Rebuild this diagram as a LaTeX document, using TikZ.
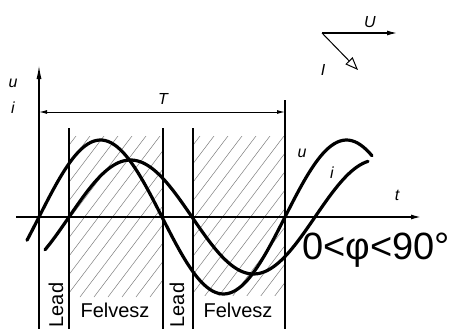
\documentclass[tikz,border=0pt]{standalone}
\usepackage{fontspec}
\setmainfont{Liberation Sans}
\usetikzlibrary{arrows.meta, positioning}
\definecolor{hatchgray}{RGB}{125,125,125}

\begin{document}
\begin{tikzpicture}[x=1pt, y=-1pt,
  wave/.style={line width=3.2pt, line cap=round},
  axisline/.style={line width=1.4pt},
  hatchline/.style={hatchgray, line width=0.5pt},
  sym/.style={font=\fontsize{16}{16}\selectfont\itshape, inner sep=0pt},
  zone/.style={font=\fontsize{20}{20}\selectfont, inner sep=0pt}]
\useasboundingbox (0,0) rectangle (455,329);
\begin{scope}
\clip (69,136) rectangle (163,297);
\foreach \k in {0,...,18} \draw[hatchline] (\k*14-60,297) -- ++(125,-165);
\end{scope}
\begin{scope}
\clip (193,136) rectangle (285,295);
\foreach \k in {0,...,18} \draw[hatchline] (\k*14+64,297) -- ++(125,-165);
\end{scope}
\coordinate (xs) at (16,217);
\coordinate (xe) at (421,217);
\coordinate (ys) at (39,329);
\coordinate (ye) at (39,65);
\coordinate (tl) at (39,112);
\coordinate (tr) at (285,112);
\coordinate (ttop) at (285,100);
\coordinate (tbot) at (285,329);
\draw[axisline, -{Latex[length=10pt, width=5pt]}] (xs) -- (xe);
\draw[axisline, -{Latex[length=14pt, width=5pt]}] (ys) -- (ye);
\draw[line width=1pt, {Latex[length=8pt, width=4pt]}-{Latex[length=8pt, width=4pt]}] (tl) -- (tr);
\draw[line width=1.1pt] (ttop) -- (tbot);
\foreach \x in {69,163,193} \draw[line width=1.1pt] (\x,128) -- (\x,329);
\draw[wave] plot[domain=27:372, samples=120, smooth] (\x, {217-77*sin(1.46341*(\x-39))});
\draw[wave] plot[domain=45:368, samples=120, smooth] (\x, {217-57*sin(1.46341*(\x-69))});
\node[sym] (ulbl) at (13,83) {u};
\node[sym] (ilbl) at (13,108) {i};
\node[sym] (Tlbl) at (163,99) {T};
\node[sym] (tlbl) at (397,195) {t};
\node[sym] (ucurve) at (302,153) {u};
\node[sym] (icurve) at (332,173) {i};
\node[zone, rotate=90] (lead1) at (56,305) {Lead};
\node[zone, rotate=90] (lead2) at (177,305) {Lead};
\node[zone] (felv1) at (115,310) {Felvesz};
\node[zone] (felv2) at (238,310) {Felvesz};
\node[font=\fontsize{38}{38}\selectfont, inner sep=0pt] (phirange) at (376,250) {0<φ<90°};
\coordinate (po) at (322,33);
\coordinate (pu) at (397,33);
\coordinate (pi) at (358,70);
\draw[line width=1.2pt, -{Latex[length=10pt, width=5pt]}] (po) -- (pu);
\draw[line width=1pt, -{Triangle[open, length=13pt, width=10pt]}] (po) -- (pi);
\node[sym] (Ulbl) at (370,22) {U};
\node[sym] (Ilbl) at (323,70) {I};
\end{tikzpicture}
\end{document}
